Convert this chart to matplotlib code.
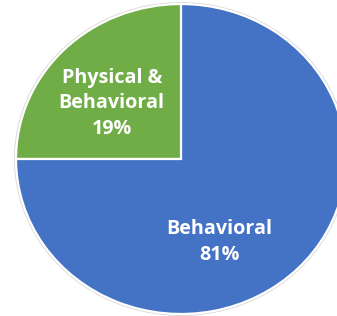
import matplotlib.pyplot as plt

# slices in drawing order (counter-clockwise from 12 o'clock)
categories = ['Physical &\nBehavioral', 'Behavioral']
pct_labels = ['19%', '81%']
# wedge sizes as drawn in the reference (green wedge is a quarter)
drawn_share = [25, 75]
colors = ['#70AD47', '#4472C4']

fig = plt.figure(figsize=(3.37, 3.16), dpi=100)
ax = fig.add_axes([0, 0, 1, 1])

# faint grey rim behind the pie
ax.pie([1], radius=1.008, colors=['none'], startangle=90,
       wedgeprops=dict(edgecolor='#d9d9d9', linewidth=1.0))

wedges, _ = ax.pie(drawn_share, colors=colors, startangle=90,
                   counterclock=True,
                   wedgeprops=dict(edgecolor='white', linewidth=1.6))

label_pos = [(-0.42, 0.36), (0.23, -0.535)]
for name, pct, (x, y) in zip(categories, pct_labels, label_pos):
    ax.text(x, y, f'{name}\n{pct}', ha='center', va='center',
            color='white', fontsize=14.2, fontweight='bold',
            family='Open Sans', linespacing=1.37)

ax.set_aspect('auto')
ax.set_xlim(-1.097, 0.945)
ax.set_ylim(-1.013, 1.026)
ax.axis('off')

plt.savefig('out.png')
